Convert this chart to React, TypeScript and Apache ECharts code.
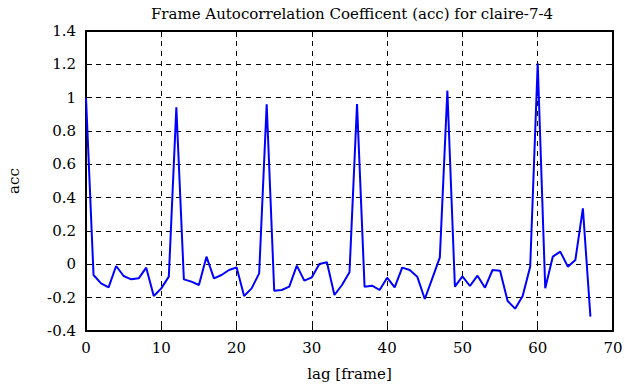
import React, { useEffect, useRef } from "react";
import * as echarts from "echarts";

const lags = Array.from({ length: 68 }, (_, i) => i);
const acc = [
  1.0, -0.064, -0.114, -0.138, -0.01, -0.07, -0.09, -0.084, -0.02, -0.19,
  -0.144, -0.074, 0.942, -0.09, -0.104, -0.124, 0.046, -0.084, -0.064, -0.034,
  -0.018, -0.19, -0.144, -0.054, 0.96, -0.158, -0.154, -0.134, -0.008, -0.098,
  -0.078, 0.002, 0.012, -0.184, -0.124, -0.048, 0.962, -0.134, -0.128, -0.154,
  -0.08, -0.138, -0.02, -0.034, -0.074, -0.208, -0.084, 0.042, 1.042, -0.134,
  -0.072, -0.13, -0.068, -0.14, -0.034, -0.038, -0.22, -0.266, -0.19, -0.014,
  1.206, -0.144, 0.046, 0.076, -0.014, 0.026, 0.336, -0.314,
];

const titleText = "Frame Autocorrelation Coefficent (acc) for claire-7-4";
const xLabel = "lag [frame]";
const yLabel = "acc";

const FONT = "DejaVu Serif";

export default function App() {
  const ref = useRef<HTMLDivElement>(null);
  useEffect(() => {
    if (!ref.current) return;
    const chart = echarts.init(ref.current, null, { renderer: "svg" });
    const tick = { show: true, inside: true, length: 6, lineStyle: { color: "#000", width: 1 } };
    const line = { show: true, onZero: false, lineStyle: { color: "#000", width: 2 } };
    const split = { show: true, lineStyle: { color: "#000", type: [5, 5] as any, width: 1 } };
    const txt = { fontFamily: FONT, fontSize: 15, color: "#000", fontWeight: "normal" };
    chart.setOption({
      animation: false,
      backgroundColor: "#fff",
      textStyle: { fontFamily: FONT },
      title: {
        text: titleText,
        left: 347,
        textAlign: "center",
        top: 1,
        textStyle: txt,
      },
      grid: {
        left: 86,
        right: 12,
        top: 31,
        bottom: 56,
        containLabel: false,
        outerBoundsMode: "none",
      },
      xAxis: [
        {
          type: "value",
          min: 0,
          max: 70,
          interval: 10,
          position: "bottom",
          name: xLabel,
          nameLocation: "middle",
          nameGap: 35,
          nameTextStyle: txt,
          axisLine: line,
          axisTick: tick,
          splitLine: split,
          axisLabel: { ...txt, margin: 9 },
        },
        {
          type: "value",
          min: 0,
          max: 70,
          interval: 10,
          position: "top",
          axisLine: line,
          axisTick: tick,
          splitLine: { show: false },
          axisLabel: { show: false },
        },
      ],
      yAxis: [
        {
          type: "value",
          min: -0.4,
          max: 1.4,
          interval: 0.2,
          position: "left",
          name: yLabel,
          nameLocation: "middle",
          nameGap: 65,
          nameTextStyle: txt,
          axisLine: line,
          axisTick: tick,
          splitLine: split,
          axisLabel: {
            ...txt,
            margin: 10,
            formatter: (v: number) => String(parseFloat(v.toFixed(1))),
          },
        },
        {
          type: "value",
          min: -0.4,
          max: 1.4,
          interval: 0.2,
          position: "right",
          axisLine: line,
          axisTick: tick,
          splitLine: { show: false },
          axisLabel: { show: false },
        },
      ],
      series: [
        {
          type: "line",
          data: lags.map((l, i) => [l, acc[i]]),
          showSymbol: false,
          symbol: "none",
          lineStyle: { color: "#0000ff", width: 2 },
          xAxisIndex: 0,
          yAxisIndex: 0,
        },
      ],
    });
    return () => chart.dispose();
  }, []);
  return (
    <div
      ref={ref}
      style={{ position: "fixed", left: 0, top: 0, width: 625, height: 387 }}
    />
  );
}
